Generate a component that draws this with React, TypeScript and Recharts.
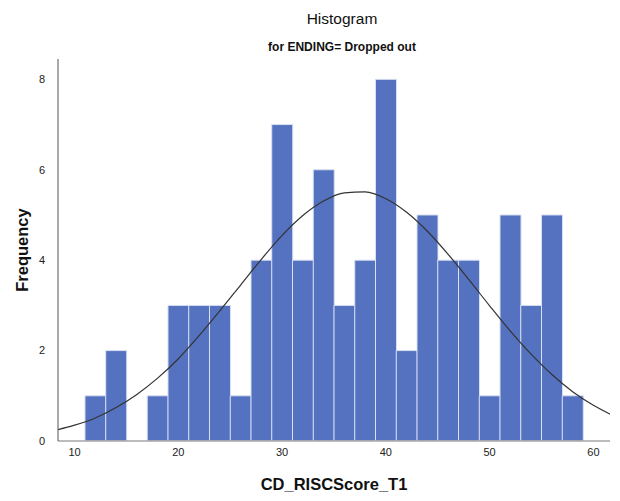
import { Bar, ComposedChart, Line, XAxis, YAxis } from "recharts";

// bin midpoints (width 2, from 11 to 59) and their frequencies
const binMids = [12, 14, 16, 18, 20, 22, 24, 26, 28, 30, 32, 34, 36, 38, 40, 42, 44, 46, 48, 50, 52, 54, 56, 58];
const binCounts = [1, 2, 0, 1, 3, 3, 3, 1, 4, 7, 4, 6, 3, 4, 8, 2, 5, 4, 4, 1, 5, 3, 5, 1];

// normal curve
const curveX = [8, 10, 12, 14, 16, 18, 20, 22, 24, 26, 28, 30, 32, 34, 36, 38, 40, 42, 44, 46, 48, 50, 52, 54, 56, 58, 60, 62];
const curveY = [0.23, 0.35, 0.51, 0.74, 1.03, 1.39, 1.82, 2.33, 2.88, 3.45, 4.02, 4.55, 4.99, 5.31, 5.49, 5.51, 5.36, 5.06, 4.64, 4.13, 3.57, 2.99, 2.43, 1.92, 1.47, 1.09, 0.79, 0.55];

const xTicks = [10, 20, 30, 40, 50, 60];
const yTicks = [0, 2, 4, 6, 8];

const data = curveX.map((x, i) => {
  const b = binMids.indexOf(x);
  return { x, count: b >= 0 ? binCounts[b] : undefined, curve: curveY[i] };
});

const font = '"Liberation Sans", Arial, sans-serif';

export default function App() {
  return (
    <div style={{ position: "absolute", left: 0, top: 0, width: 620, height: 501, background: "#fff", fontFamily: font }}>
      <div style={{ position: "absolute", left: 242, width: 200, top: 10, textAlign: "center", fontSize: 15.5, color: "#111", lineHeight: "18px" }}>
        Histogram
      </div>
      <div
        style={{
          position: "absolute",
          left: 192,
          width: 300,
          top: 38,
          textAlign: "center",
          fontSize: 13.5,
          fontWeight: "bold",
          color: "#111",
          lineHeight: "17px",
          transform: "scaleX(0.89)",
        }}
      >
        for ENDING= Dropped out
      </div>
      <ComposedChart
        width={620}
        height={501}
        data={data}
        margin={{ top: 59, right: 10, bottom: 0, left: 1 }}
        barCategoryGap={0}
        barGap={0}
      >
        <XAxis
          dataKey="x"
          type="number"
          domain={[8.4, 61.6]}
          allowDataOverflow
          ticks={xTicks}
          height={60}
          tickLine={false}
          tickSize={0}
          tickMargin={7}
          axisLine={{ stroke: "#a6a6a6", strokeWidth: 1.5 }}
          tick={{ fill: "#222", fontSize: 11, fontFamily: font }}
          label={{ value: "CD_RISCScore_T1", position: "insideBottom", offset: 11, fill: "#111", fontSize: 16.5, fontWeight: "bold", fontFamily: font }}
        />
        <YAxis
          type="number"
          domain={[0, 8.45]}
          allowDataOverflow
          ticks={yTicks}
          width={57}
          tickLine={false}
          tickSize={0}
          tickMargin={13}
          axisLine={{ stroke: "#555", strokeWidth: 1 }}
          tick={{ fill: "#222", fontSize: 11, fontFamily: font }}
          label={{ value: "Frequency", angle: -90, position: "center", dx: -7, fill: "#111", fontSize: 16.5, fontWeight: "bold", fontFamily: font }}
        />
        <Bar dataKey="count" fill="#5572c0" stroke="#d9e0f2" strokeWidth={1} isAnimationActive={false} />
        <Line dataKey="curve" type="monotone" stroke="#333" strokeWidth={1.2} dot={false} activeDot={false} isAnimationActive={false} />
      </ComposedChart>
    </div>
  );
}
